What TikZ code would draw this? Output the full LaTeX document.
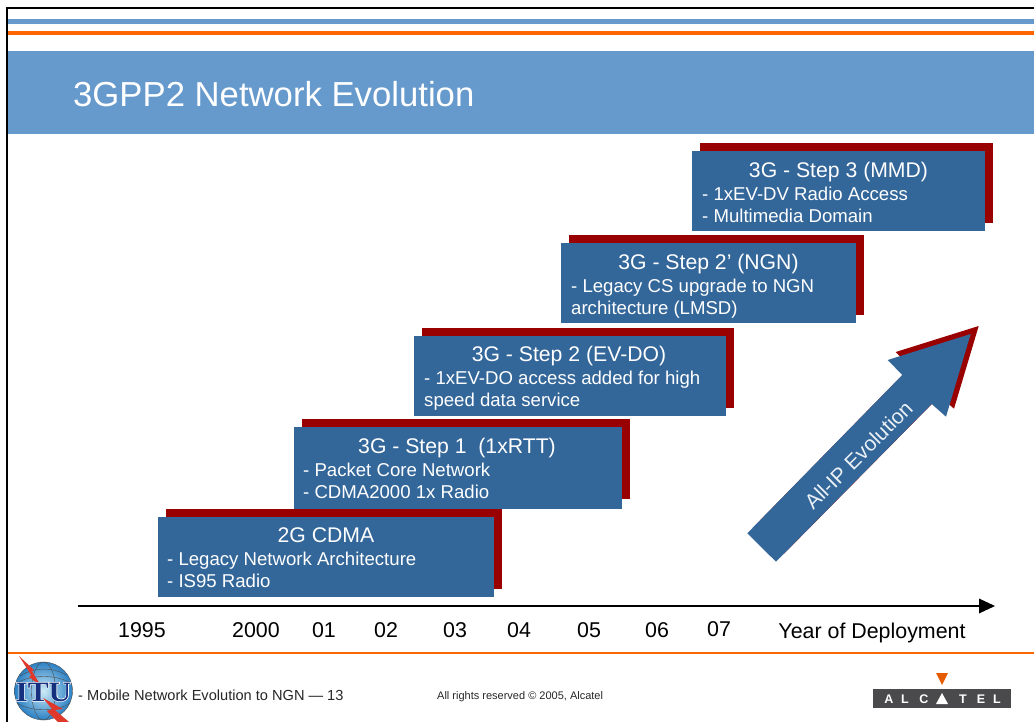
\documentclass[tikz,border=0pt]{standalone}
\usepackage{fontspec}
\setmainfont{Liberation Sans}
\newfontfamily\ituserif{Liberation Serif}[FakeStretch=1.12]
\newfontfamily\ituhalo{Liberation Serif}[FakeStretch=1.12, FakeBold=4]
\definecolor{bandblue}{HTML}{6699CC}
\definecolor{boxblue}{HTML}{336699}
\definecolor{shadowred}{HTML}{990000}
\definecolor{lineorange}{HTML}{FF6600}
\definecolor{logogrey}{HTML}{4A4A4C}
\definecolor{itublue}{HTML}{14307F}
\definecolor{globeedge}{HTML}{2A80C4}
\definecolor{globemid}{HTML}{CDEBF7}
\definecolor{boltred}{HTML}{E0392B}
\tikzset{
    stepbox/.style={fill=boxblue, inner sep=0, anchor=north west},
    stepshadow/.style={fill=shadowred, inner sep=0, anchor=north west},
    stephead/.style={text=white, inner sep=0, anchor=base, font=\fontsize{21.2}{24}\selectfont},
    stepline/.style={text=white, inner sep=0, anchor=base west, font=\fontsize{18.6}{22}\selectfont},
    yearlabel/.style={text=black, inner sep=0, anchor=base, font=\fontsize{21.4}{24}\selectfont},
    logoletter/.style={text=white, inner sep=0, anchor=center, font=\bfseries\fontsize{12.5}{15}\selectfont}
}
\begin{document}
\begin{tikzpicture}[x=1pt, y=-1pt]
    \useasboundingbox (0,0) rectangle (1034,722);

    % Marco
    \draw[black, line width=2] (7,722) -- (7,8) -- (1034,8);

    % Bandas superiores
    \fill[bandblue] (8,19) rectangle (1034,24);
    \fill[lineorange] (8,31) rectangle (1034,35);
    \fill[bandblue] (8,51) rectangle (1034,134);
    \node[text=white, inner sep=0, anchor=base west, font=\fontsize{34.7}{40}\selectfont] (title) at (73,107) {3GPP2 Network Evolution};

    % 3G - Step 3
    \node[stepshadow, minimum width=293, minimum height=80] (mmdShadow) at (700,143) {};
    \node[stepbox, minimum width=293, minimum height=80] (mmdBox) at (692,151) {};
    \node[stephead] (mmdHead) at (838.5,178) {3G - Step 3 (MMD)};
    \node[stepline] (mmdOne) at (702,201) {- 1xEV-DV Radio Access};
    \node[stepline] (mmdTwo) at (702,223) {- Multimedia Domain};

    % 3G - Step 2'
    \node[stepshadow, minimum width=295, minimum height=80] (ngnShadow) at (569,235) {};
    \node[stepbox, minimum width=295, minimum height=80] (ngnBox) at (561,243) {};
    \node[stephead] (ngnHead) at (708.5,270) {3G - Step 2' (NGN)};
    \node[stepline] (ngnOne) at (571,292) {- Legacy CS upgrade to NGN};
    \node[stepline] (ngnTwo) at (571,314) {architecture (LMSD)};

    % 3G - Step 2
    \node[stepshadow, minimum width=312, minimum height=80] (evdoShadow) at (422,328) {};
    \node[stepbox, minimum width=312, minimum height=80] (evdoBox) at (414,336) {};
    \node[stephead] (evdoHead) at (569,361) {3G - Step 2 (EV-DO)};
    \node[stepline] (evdoOne) at (424,384) {- 1xEV-DO access added for high};
    \node[stepline] (evdoTwo) at (424,406) {speed data service};

    % 3G - Step 1
    \node[stepshadow, minimum width=328, minimum height=80] (rttShadow) at (302,419) {};
    \node[stepbox, minimum width=328, minimum height=82] (rttBox) at (294,427) {};
    \node[stephead] (rttHead) at (457,453) {3G - Step 1\ \ (1xRTT)};
    \node[stepline] (rttOne) at (303,476) {- Packet Core Network};
    \node[stepline] (rttTwo) at (303,498) {- CDMA2000 1x Radio};

    % 2G
    \node[stepshadow, minimum width=336, minimum height=80] (cdmaShadow) at (166,509) {};
    \node[stepbox, minimum width=336, minimum height=80] (cdmaBox) at (158,517) {};
    \node[stephead] (cdmaHead) at (326,542) {2G CDMA};
    \node[stepline] (cdmaOne) at (167,565) {- Legacy Network Architecture};
    \node[stepline] (cdmaTwo) at (167,587) {- IS95 Radio};

    % Flecha All-IP
    \fill[shadowred] (755.3,525.3) -- (784,553.7) -- (939.7,396) -- (954,408.7) -- (978.7,326) -- (895.7,352) -- (910.3,367) -- cycle;
    \fill[boxblue] (747.3,533.3) -- (776,561.7) -- (931.7,404) -- (946,416.7) -- (970.7,334) -- (887.7,360) -- (902.3,375) -- cycle;
    \node[text=white!90!boxblue, inner sep=0, rotate=45, font=\fontsize{21}{24}\selectfont] (allIp) at (858.5,455) {All-IP Evolution};

    % Eje de tiempo
    \coordinate (axisStart) at (78,606);
    \coordinate (axisEnd) at (995,606);
    \draw[black, line width=2.4] (axisStart) -- (980,606);
    \fill[black] (axisEnd) -- (979,598.5) -- (979,613.5) -- cycle;

    % Años
    \node[yearlabel] (yearA) at (142,637) {1995};
    \node[yearlabel] (yearB) at (256,637) {2000};
    \node[yearlabel] (yearC) at (324,637) {01};
    \node[yearlabel] (yearD) at (386,637) {02};
    \node[yearlabel] (yearE) at (455,637) {03};
    \node[yearlabel] (yearF) at (519,637) {04};
    \node[yearlabel] (yearG) at (589,637) {05};
    \node[yearlabel] (yearH) at (657,637) {06};
    \node[yearlabel] (yearI) at (719,636) {07};
    \node[yearlabel] (yearTitle) at (872,638) {Year of Deployment};

    % Pie
    \fill[lineorange] (8,652.4) rectangle (1034,654);
    \node[text=black!85, inner sep=0, anchor=base west, font=\fontsize{14.6}{16}\selectfont] (footLeft) at (78,700) {- Mobile Network Evolution to NGN — 13};
    \node[text=black!85, inner sep=0, anchor=base west, font=\fontsize{11}{12}\selectfont] (footMid) at (437,699) {All rights reserved © 2005, Alcatel};

    % Logo ITU
    \begin{scope}
        \clip (0,640) rectangle (1034,722);
        \shade[inner color=globemid, outer color=globeedge] (43.5,691) circle (29);
        \draw[black!70, line width=0.4] (43.5,691) circle (29);
        \draw[black!70, line width=0.4] (43.5,691) ellipse (12 and 29);
        \draw[black!70, line width=0.4] (15,684) .. controls (30,674) and (58,674) .. (72,684);
        \draw[black!70, line width=0.4] (20,676) .. controls (34,667) and (54,667) .. (66,675);
        \draw[black!70, line width=0.4] (17,703) .. controls (30,712) and (58,712) .. (70,703);
        \fill[boltred] (19,656) -- (34,670) -- (32,671) -- (41,686) -- (29,677) -- (31,675) -- cycle;
        \node[text=white, inner sep=0, font=\ituhalo\bfseries\fontsize{28}{30}\selectfont] (ituHalo) at (43.5,692) {ITU};
        \node[text=itublue, inner sep=0, font=\ituserif\bfseries\fontsize{28}{30}\selectfont] (ituText) at (43.5,692) {ITU};
        \fill[boltred] (43,698) -- (63,709) -- (55,710) -- (69,722) -- (58,722) -- (47,711) -- (52,709) -- cycle;
    \end{scope}

    % Logo Alcatel
    \fill[lineorange!90!black] (936,673) -- (948,673) -- (942,685) -- cycle;
    \fill[logogrey] (873,689) rectangle (1011,708);
    \node[logoletter] (letterA) at (889,699) {A};
    \node[logoletter] (letterL) at (905,699) {L};
    \node[logoletter] (letterC) at (924,699) {C};
    \fill[white] (936,704) -- (948,704) -- (942,693) -- cycle;
    \node[logoletter] (letterT) at (963,699) {T};
    \node[logoletter] (letterE) at (981,699) {E};
    \node[logoletter] (letterLast) at (997,699) {L};
\end{tikzpicture}
\end{document}
